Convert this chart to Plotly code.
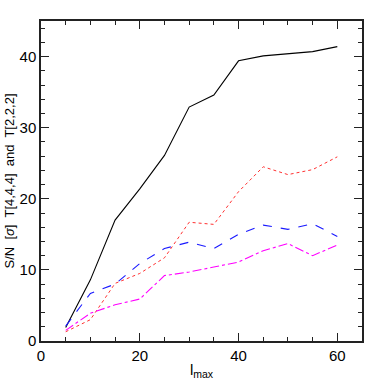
import plotly.graph_objects as go

lmax = [5, 10, 15, 20, 25, 30, 35, 40, 45, 50, 55, 60]
sn_black = [1.9, 8.6, 17.0, 21.4, 26.1, 32.9, 34.6, 39.4, 40.1, 40.4, 40.7, 41.4]
sn_red = [1.3, 3.0, 8.1, 9.5, 11.7, 16.7, 16.4, 21.0, 24.5, 23.4, 24.1, 25.9]
sn_blue = [2.1, 6.7, 8.0, 10.9, 13.0, 13.9, 13.0, 15.0, 16.3, 15.7, 16.5, 14.7]
sn_magenta = [1.5, 3.9, 5.1, 5.9, 9.2, 9.7, 10.4, 11.1, 12.7, 13.7, 12.0, 13.5]

series = [
    (sn_black, 'black', 'solid', 1.1),
    (sn_red, '#ff3030', 'dot', 1.0),
    (sn_blue, '#1a1aff', 'dash', 1.1),
    (sn_magenta, '#ff00ff', 'dashdot', 1.1),
]

fig = go.Figure()
for ys, col, dash, w in series:
    fig.add_trace(go.Scatter(x=lmax, y=ys, mode='lines',
                             line=dict(color=col, width=w, dash=dash)))

FONT = 'Liberation Sans, Arial, sans-serif'
ax = dict(showgrid=False, zeroline=False, showline=True, linecolor='#222222',
          linewidth=1.5, mirror='allticks', ticks='inside', ticklen=8,
          tickcolor='#222222', tickwidth=1.2, automargin=False,
          tickfont=dict(family=FONT, size=15, color='black'))
xminor = dict(ticks='inside', dtick=5, ticklen=4, tickcolor='#222222', tickwidth=1.2)
yminor = dict(ticks='inside', dtick=2, ticklen=4, tickcolor='#222222', tickwidth=1.2)

fig.update_layout(
    width=382, height=382,
    paper_bgcolor='white', plot_bgcolor='white',
    margin=dict(l=41, r=20, t=21, b=41),
    showlegend=False,
    font=dict(family=FONT, color='black'),
    xaxis=dict(**ax, range=[0, 65], dtick=20, tick0=0, minor=xminor,
               title=dict(text='l<sub>max</sub>', font=dict(size=15), standoff=2)),
    yaxis=dict(**ax, range=[0, 45], dtick=10, tick0=0, minor=yminor,
               title=dict(text='S/N  [<i>σ</i>]  T[4,4,4]  and  T[2,2,2]',
                          font=dict(size=13), standoff=2)),
)

# page body has a default 8px margin; drop it so the figure sits at 0,0
fig.write_html('out.html', config={'displayModeBar': False},
               post_script="document.body.style.margin='0';")
